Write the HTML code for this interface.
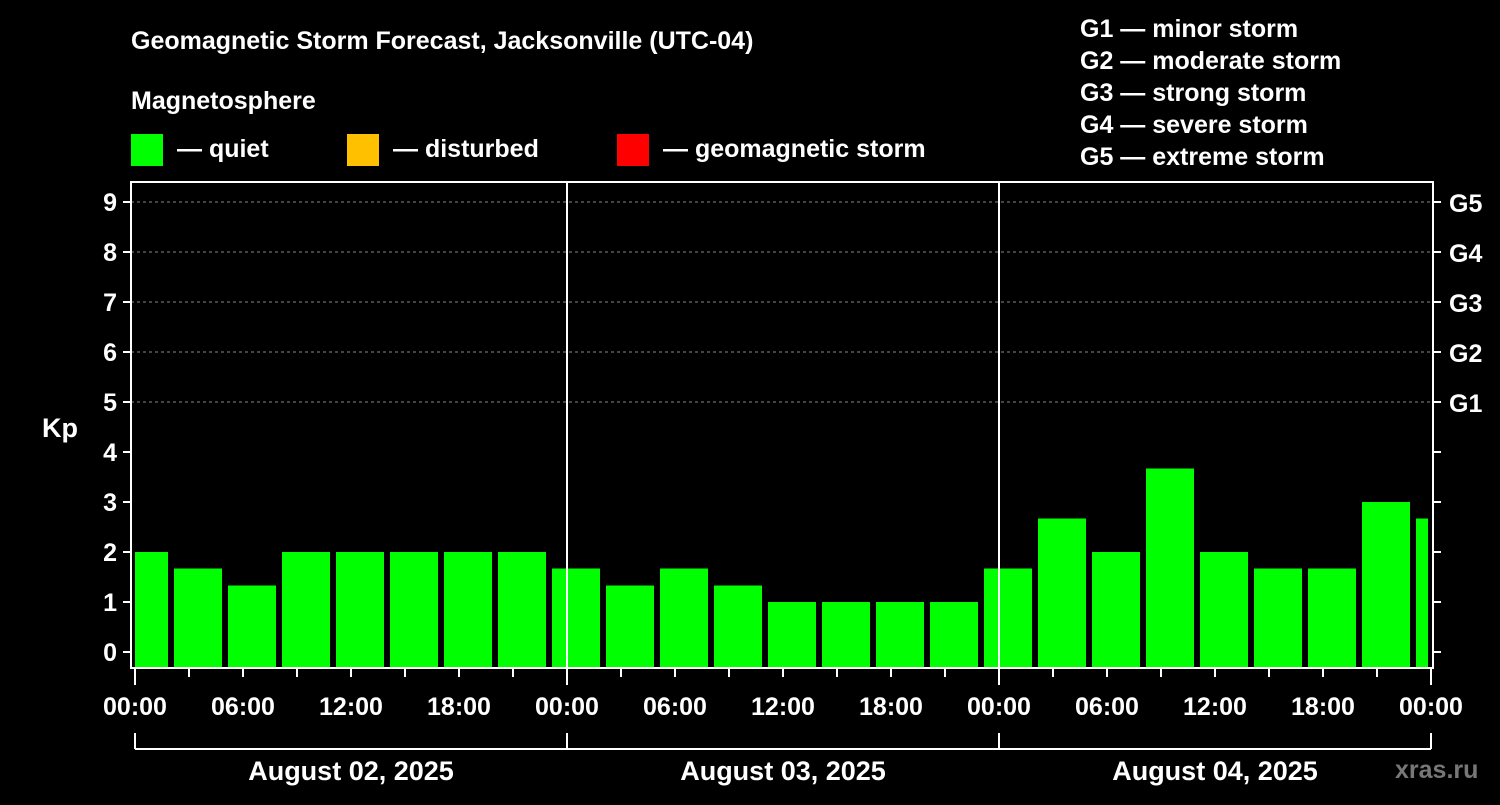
<!DOCTYPE html>
<html><head><meta charset="utf-8"><style>
body{margin:0;background:#000;width:1500px;height:800px;overflow:hidden}
svg text{font-family:"Liberation Sans",sans-serif;font-weight:bold;fill:#fff}
</style></head><body>
<svg id="c" width="1500" height="800">
<text x="131" y="49" font-size="25">Geomagnetic Storm Forecast, Jacksonville (UTC-04)</text>
<text x="131" y="109" font-size="25">Magnetosphere</text>
<g><rect x="131" y="134" width="32" height="32" fill="#00ff00"/><text x="177" y="157" font-size="25">— quiet</text></g>
<g><rect x="347" y="134" width="32" height="32" fill="#ffc000"/><text x="393" y="157" font-size="25">— disturbed</text></g>
<g><rect x="617" y="134" width="32" height="32" fill="#ff0000"/><text x="663" y="157" font-size="25">— geomagnetic storm</text></g>
<g font-size="25">
<text x="1080" y="37">G1 — minor storm</text><text x="1080" y="69">G2 — moderate storm</text><text x="1080" y="101">G3 — strong storm</text><text x="1080" y="133">G4 — severe storm</text><text x="1080" y="165">G5 — extreme storm</text></g>
<text x="42" y="437" font-size="27">Kp</text>
<text x="1395" y="778" font-size="25" fill="#777" style="fill:#777">xras.ru</text>
<g id="plot"></g>
</svg>
<script>
const kpValues=[2,1.67,1.33,2,2,2,2,2,1.67,1.33,1.67,1.33,1,1,1,1,1.67,2.67,2,3.67,2,1.67,1.67,3,2.67];
const yTicks=[0,1,2,3,4,5,6,7,8,9];
const gLabels=["G1","G2","G3","G4","G5"];
const dayLabels=["August 02, 2025","August 03, 2025","August 04, 2025"];
const hourLabels=["00:00","06:00","12:00","18:00"];
const firstBinStartHour=-1;
const X0=135,PXH=18,L=131,R=1433,T=182,B=668;
const y=v=>652-v*50;
const x=h=>X0+h*PXH;
const g=document.getElementById('plot');
const NS='http://www.w3.org/2000/svg';
function el(t,a,p){const e=document.createElementNS(NS,t);for(const k in a)e.setAttribute(k,a[k]);(p||g).appendChild(e);return e;}
// grid
for(let v=5;v<=9;v++){const ln=el('line',{x1:L,x2:R,y1:y(v),y2:y(v),stroke:'#888','stroke-dasharray':'3,3','stroke-width':1});

}
// bars
kpValues.forEach((v,i)=>{
 let a=x(firstBinStartHour+i*3)+3,b=x(firstBinStartHour+i*3+3)-3;
 a=Math.max(a,X0);b=Math.min(b,R-5);
 const col=v>=5?'#ff0000':(v>=4?'#ffc000':'#00ff00');
 const r=el('rect',{x:a,y:y(v),width:b-a,height:B-y(v),fill:col});
 
 
});
// day separators
for(let d=1;d<dayLabels.length;d++){const ln=el('line',{x1:x(d*24),x2:x(d*24),y1:T,y2:B,stroke:'#fff','stroke-width':2});

}
// frame
const fr=el('rect',{x:L,y:T,width:R-L,height:B-T,fill:'none',stroke:'#fff','stroke-width':2});


// y ticks
yTicks.forEach(v=>{
 el('line',{x1:L-8,x2:L,y1:y(v),y2:y(v),stroke:'#fff','stroke-width':2});
 el('line',{x1:R,x2:R+8,y1:y(v),y2:y(v),stroke:'#fff','stroke-width':2});
 const t=el('text',{x:L-14,y:y(v)+9,'font-size':25,'text-anchor':'end'});t.textContent=v;
 
 
});
gLabels.forEach((s,i)=>{const t=el('text',{x:1449,y:y(5+i)+10,'font-size':25});t.textContent=s;
 
 });
// x ticks
const nDays=dayLabels.length;
for(let h=0;h<=nDays*24;h+=3){
 const big=h%24===0;
 el('line',{x1:x(h),x2:x(h),y1:B,y2:B+(big?17:9),stroke:'#fff','stroke-width':2});
 if(h%6===0){const t=el('text',{x:x(h),y:715,'font-size':25,'text-anchor':'middle'});t.textContent=hourLabels[(h%24)/6];
 
 }
}
// day bracket
el('line',{x1:x(0),x2:x(nDays*24),y1:749,y2:749,stroke:'#fff','stroke-width':2});
for(let d=0;d<=nDays;d++)el('line',{x1:x(d*24),x2:x(d*24),y1:733,y2:749,stroke:'#fff','stroke-width':2});
dayLabels.forEach((s,d)=>{const t=el('text',{x:x(d*24+12),y:780,'font-size':27,'text-anchor':'middle'});t.textContent=s;
 
 });
</script>
</body></html>
